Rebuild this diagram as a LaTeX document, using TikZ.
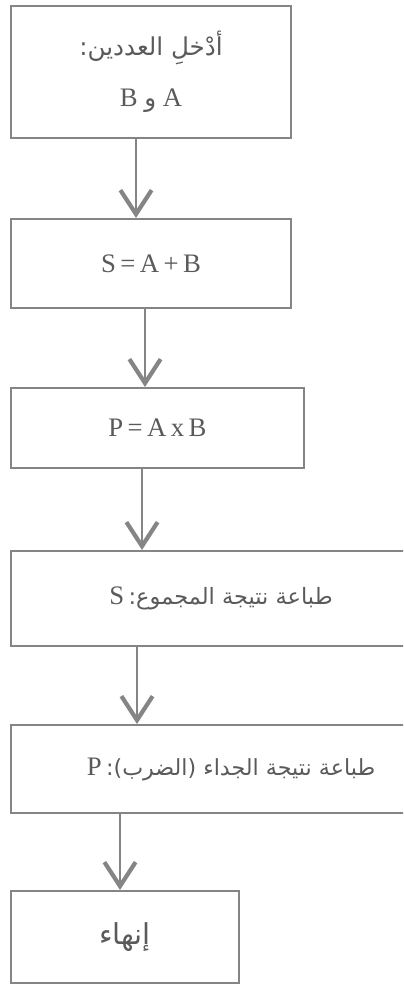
\documentclass[tikz,border=0pt]{standalone}
\usepackage{fontspec}
\setmainfont{Liberation Serif}
\newfontfamily\arabicfont[Script=Arabic]{DejaVu Sans}
\TeXXeTstate=1
\usetikzlibrary{arrows.meta,positioning,calc}
\definecolor{boxgray}{HTML}{858585}
\definecolor{txtgray}{HTML}{5A5A5A}
\newcommand{\arsize}[1]{\arabicfont\fontsize{#1}{20}\selectfont}

\begin{document}
\begin{tikzpicture}[
  every node/.style={font=\fontsize{19}{22}\selectfont,text=txtgray},
  blk/.style={draw=boxgray,line width=1.4pt,anchor=north west,inner sep=0pt},
  e/.style={draw=boxgray,line width=1.3pt,-{Straight Barb[length=6mm,width=7.8mm,line width=3pt]}}]
 \useasboundingbox (0,0) rectangle (10.075,-24.6);
 \clip (0,0) rectangle (10.075,-24.6);
 \node[blk,minimum width=7cm,minimum height=3.3cm,align=center] (in) at (0.25,-0.125)
   {{\arsize{17.5}\beginR أدْخلِ العددين:\endR}\\[0.5cm]
    \beginR A {\arsize{17.5}و} B\endR};
 \node[blk,minimum width=7cm,minimum height=2.225cm] (sum) at (0.25,-5.45)
   {S\thinspace=\thinspace A\thinspace+\thinspace B};
 \node[blk,minimum width=7.325cm,minimum height=2cm] (prod) at (0.25,-9.675)
   {P\thinspace=\thinspace A\thinspace x\thinspace B};
 \node[blk,minimum width=10.5cm,minimum height=2.375cm] (outs) at (0.25,-13.75)
   {\beginR{\arsize{16}طباعة نتيجة المجموع:}\,S\endR};
 \node[blk,minimum width=11cm,minimum height=2.2cm] (outp) at (0.25,-18.1)
   {\beginR{\arsize{15.8}طباعة نتيجة الجداء (الضرب):}\,P\endR};
 \node[blk,minimum width=5.7cm,minimum height=2.3cm] (stop) at (0.25,-22.25)
   {\beginR{\arsize{20.5}إنهاء}\endR};
 \draw[e] ([xshift=3.15cm]in.south west) -- ([xshift=3.15cm]sum.north west);
 \draw[e] ([xshift=3.375cm]sum.south west) -- ([xshift=3.375cm]prod.north west);
 \draw[e] ([xshift=3.3cm]prod.south west) -- ([xshift=3.3cm]outs.north west);
 \draw[e] ([xshift=3.175cm]outs.south west) -- ([xshift=3.175cm]outp.north west);
 \draw[e] ([xshift=2.75cm]outp.south west) -- ([xshift=2.75cm]stop.north west);
\end{tikzpicture}
\end{document}
